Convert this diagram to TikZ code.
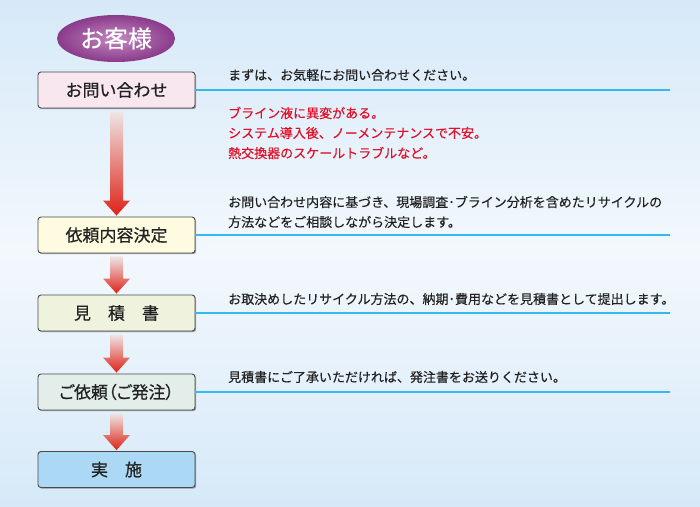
\documentclass[tikz,border=0pt]{standalone}
\usepackage{fontspec}
\setmainfont{Noto Sans CJK JP}
\usetikzlibrary{shapes.geometric,shadows,calc}
\definecolor{bgtop}{HTML}{D6E9F8}
\definecolor{bgmid}{HTML}{F3F8FD}
\definecolor{txt}{HTML}{222222}
\definecolor{redtxt}{HTML}{E0102A}
\definecolor{linec}{HTML}{33B9EF}
\definecolor{boxline}{HTML}{4A4A4A}
\definecolor{fillA}{HTML}{F9E7F0}
\definecolor{fillB}{HTML}{FEFBE1}
\definecolor{fillC}{HTML}{EFF3DD}
\definecolor{fillD}{HTML}{E3EEEA}
\definecolor{fillE}{HTML}{AAD8F5}
\definecolor{purpin}{HTML}{C489C2}
\definecolor{purpout}{HTML}{8A3A8A}
\definecolor{arrtop}{HTML}{EEE6E6}
\definecolor{arrbot}{HTML}{DE2216}
\tikzset{
  stepbox/.style={draw=boxline, line width=0.9pt, rounded corners=3pt,
    minimum width=157pt, minimum height=36pt, inner sep=0pt,
    font=\fontsize{17}{20}\selectfont\addfontfeature{FakeBold=0.6}, text=txt,
    drop shadow={shadow xshift=1.2pt, shadow yshift=-1.2pt, opacity=0.35, fill=black}},
  note/.style={anchor=west, inner sep=0pt, font=\fontsize{13}{15}\selectfont\addfontfeature{FakeBold=0.3}, text=txt},
  rednote/.style={note, text=redtxt},
  tieline/.style={draw=linec, line width=1.6pt},
  arrowshade/.style={top color=arrtop, bottom color=arrbot, draw=none}
}
\newcommand\flowarr[2]{%
  \path[arrowshade] ($(#1.south)+(-6.5,3)$) -- ($(#1.south)+(6.5,3)$)
    -- ($(#2.north)+(6.5,-16)$) -- ($(#2.north)+(13.5,-16)$)
    -- ($(#2.north)+(0,-1)$) -- ($(#2.north)+(-13.5,-16)$)
    -- ($(#2.north)+(-6.5,-16)$) -- cycle;}
\begin{document}
\begin{tikzpicture}[x=1pt,y=-1pt]
\useasboundingbox (0,0) rectangle (700,506);
\fill[top color=bgtop, bottom color=bgmid] (0,0) rectangle (700,253.5);
\fill[top color=bgmid, bottom color=bgtop] (0,253) rectangle (700,506);

\node[ellipse, minimum width=118pt, minimum height=47pt, inner sep=0pt,
  inner color=purpin, outer color=purpout, text=white,
  font=\fontsize{24}{26}\selectfont\addfontfeature{FakeBold=0.4}] (cust) at (116,38.5) {お客様};

\node[stepbox, fill=fillA] (b1) at (116.5,90) {お問い合わせ};
\node[stepbox, fill=fillB] (b2) at (116.5,235) {依頼内容決定};
\node[stepbox, fill=fillC] (b3) at (116.5,313) {見　積　書};
\node[stepbox, fill=fillD] (b4) at (116.5,392) {\addfontfeature{RawFeature=+palt}ご依頼（ご発注）};
\node[stepbox, fill=fillE] (b5) at (116.5,469.5) {実　施};

\flowarr{b1}{b2}
\flowarr{b2}{b3}
\flowarr{b3}{b4}
\flowarr{b4}{b5}

\coordinate (rend) at (670,0);
\draw[tieline] (b1.east) -- (b1.east -| rend);
\draw[tieline] (b2.east) -- (b2.east -| rend);
\draw[tieline] (b3.east) -- (b3.east -| rend);
\draw[tieline] (b4.east) -- (b4.east -| rend);

\node[note] (t1) at (228,75) {まずは、お気軽にお問い合わせください。};
\node[rednote] (r1) at (228,113) {ブライン液に異変がある。};
\node[rednote] (r2) at (228,133) {システム導入後、ノーメンテナンスで不安。};
\node[rednote] (r3) at (228,153) {熱交換器のスケールトラブルなど。};
\node[note] (t2a) at (228,202) {お問い合わせ内容に基づき、現場調査･ブライン分析を含めたリサイクルの};
\node[note] (t2b) at (228,222) {方法などをご相談しながら決定します。};
\node[note] (t3) at (228,299) {お取決めしたリサイクル方法の、納期･費用などを見積書として提出します。};
\node[note] (t4) at (228,377) {見積書にご了承いただければ、発注書をお送りください。};
\end{tikzpicture}
\end{document}
